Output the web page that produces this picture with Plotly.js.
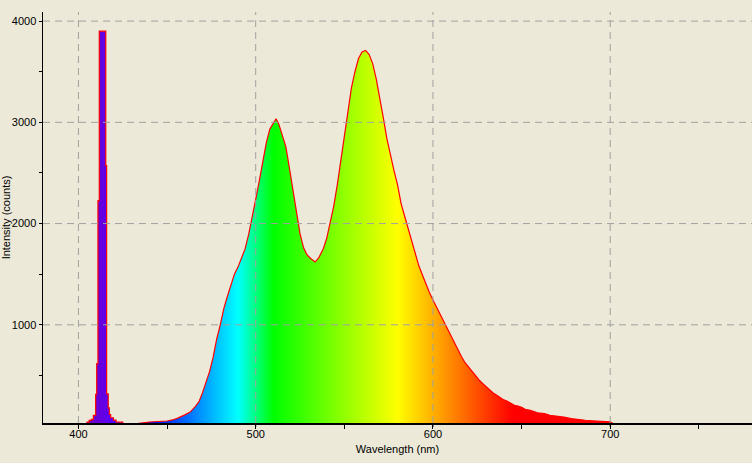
<!DOCTYPE html>
<html>
<head>
<meta charset="utf-8">
<script src="https://cdn.plot.ly/plotly-3.0.1.min.js"></script>
<style>
  html, body { margin: 0; padding: 0; background: #ECE9D8; }
  #chart { width: 752px; height: 463px; }
</style>
</head>
<body>
<div id="chart"></div>
<script>
// ---- Data ----
// Narrow violet emission line (stepped, bin left edges in nm)
const peakWavelength = [404.5, 406.0, 407.3, 408.4, 409.7, 410.3, 411.0, 411.75, 415.4, 415.9, 416.8, 417.4, 418.2, 419.7, 421.2, 423.0, 425.0];
const peakCounts     = [38,    55,    65,    105,   312,   618,   2226,  3901,   2572,  318,   180,   114,   82,    58,    40,    38,    20];

// Broad phosphor emission (nm)
const broadWavelength = [425, 432, 440, 445, 450, 453, 456, 460, 463, 466, 468, 470, 472, 474, 476, 478, 480, 482, 484, 486, 488, 490, 492, 494, 496, 498, 500, 502, 504, 506, 508, 510, 511.5, 513, 515, 517, 519, 521, 523, 525, 527, 529, 531, 533.5, 535.5, 538, 540, 542, 544, 546, 548, 550, 552, 554, 556, 558, 560, 562, 564, 566, 568, 570, 572, 574, 576, 578, 580, 582, 584, 586, 588, 590, 592, 594, 596, 598, 600, 602, 604, 606, 608, 610, 612, 614, 616, 618, 620, 622, 624, 626, 628, 630, 632, 634, 636, 638, 640, 642, 644, 646, 648, 650, 652, 655, 659, 663, 666, 670, 674, 678, 682, 686, 690, 694, 700, 702, 720, 760, 780];
const broadCounts     = [20,  22,  40,  42,  50,  60,  78,  110, 138, 195, 240, 330, 430, 540, 680, 860, 1000, 1160, 1280, 1390, 1500, 1570, 1660, 1750, 1890, 2050, 2240, 2420, 2620, 2800, 2935, 3000, 3035, 2985, 2880, 2760, 2550, 2340, 2110, 1900, 1760, 1690, 1655, 1620, 1660, 1745, 1850, 2000, 2170, 2380, 2630, 2880, 3140, 3340, 3500, 3630, 3695, 3710, 3670, 3580, 3430, 3250, 3045, 2840, 2665, 2525, 2385, 2200, 2075, 1950, 1825, 1700, 1585, 1495, 1400, 1320, 1245, 1175, 1095, 1038, 970, 898, 828, 760, 690, 628, 585, 535, 490, 455, 420, 388, 352, 326, 304, 278, 258, 245, 225, 205, 196, 185, 165, 154, 131, 122, 106, 98, 88, 74, 64, 57, 52, 45, 42, 20, 15, 10, 10];

// Axis ticks
const xMajorTicks = [400, 500, 600, 700];
const xTickLabels = ['400', '500', '600', '700'];
const yMajorTicks = [1000, 2000, 3000, 4000];
const yTickLabels = ['1000', '2000', '3000', '4000'];

// ---- Spectral colour (style) ----
function specColor(w) {
  let r = 0, g = 0, b = 0;
  if (w < 440) { r = -(w - 440) / 60; b = 1; }
  else if (w < 490) { g = (w - 440) / 50; b = 1; }
  else if (w < 510) { g = 1; b = -(w - 510) / 20; }
  else if (w < 580) { r = (w - 510) / 70; g = 1; }
  else if (w < 645) { r = 1; g = -(w - 645) / 65; }
  else { r = 1; }
  let f = 1;
  if (w < 420) f = 0.3 + 0.7 * (w - 380) / 40;
  else if (w > 700) f = 0.3 + 0.7 * (780 - w) / 80;
  const c = v => Math.round(255 * Math.max(0, Math.min(1, v * f)));
  return 'rgb(' + c(r) + ',' + c(g) + ',' + c(b) + ')';
}
const W0 = 380, W1 = 780;
const spectrumScale = [];
for (let w = W0; w <= W1; w += 2) spectrumScale.push([(w - W0) / (W1 - W0), specColor(w)]);

const gradient = { type: 'horizontal', start: W0, stop: W1, colorscale: spectrumScale };

const traces = [
  {
    x: broadWavelength, y: broadCounts, type: 'scatter', mode: 'lines',
    line: { color: '#FF0000', width: 1.2, shape: 'linear' },
    fill: 'tozeroy', fillgradient: gradient,
    hoverinfo: 'skip', showlegend: false
  },
  {
    x: peakWavelength, y: peakCounts, type: 'scatter', mode: 'lines',
    line: { color: '#FF0000', width: 1.2, shape: 'hv' },
    fill: 'tozeroy', fillgradient: gradient,
    hoverinfo: 'skip', showlegend: false
  }
];

// grid lines drawn above the fill, plus major x tick marks below the axis
const gridStyle = { color: '#A0A0A0', width: 1, dash: '7px,5px' };
const shapes = [];
xMajorTicks.forEach(v => shapes.push({ type: 'line', xref: 'x', yref: 'paper', x0: v, x1: v, y0: 0, y1: 1, line: gridStyle, layer: 'above' }));
yMajorTicks.forEach(v => shapes.push({ type: 'line', xref: 'paper', yref: 'y', x0: 0, x1: 1, y0: v, y1: v, line: gridStyle, layer: 'above' }));
xMajorTicks.forEach(v => shapes.push({ type: 'line', xref: 'x', yref: 'paper', ysizemode: 'pixel', yanchor: 0, x0: v, x1: v, y0: 0, y1: -4, line: { color: '#000', width: 1 }, layer: 'above' }));

const font = { family: 'Liberation Sans, Arial, sans-serif', size: 11, color: '#000000' };

const layout = {
  width: 752, height: 463,
  paper_bgcolor: '#ECE9D8', plot_bgcolor: '#ECE9D8',
  margin: { l: 43, r: 0, t: 12, b: 40 },
  font: font,
  showlegend: false,
  shapes: shapes,
  xaxis: {
    range: [380, 780],
    tickmode: 'array', tickvals: xMajorTicks, ticktext: xTickLabels,
    ticks: '',
    minor: { dtick: 50, tick0: 0, ticks: 'outside', ticklen: 4, tickcolor: '#000', showgrid: false },
    showgrid: false, zeroline: false,
    showline: true, linecolor: '#000', linewidth: 1.5,
    layer: 'above traces',
    title: { text: 'Wavelength (nm)', font: font, standoff: 6 },
    fixedrange: true
  },
  yaxis: {
    range: [30, 4090],
    tickmode: 'array', tickvals: yMajorTicks, ticktext: yTickLabels,
    ticks: 'outside', ticklen: 3, tickcolor: '#000', tickwidth: 1,
    minor: { dtick: 500, tick0: 0, ticks: 'outside', ticklen: 3, tickcolor: '#000', showgrid: false },
    showgrid: false, zeroline: false,
    showline: true, linecolor: '#000', linewidth: 1.5,
    layer: 'above traces',
    title: { text: 'Intensity (counts)', font: font, standoff: 7 },
    fixedrange: true
  }
};

Plotly.newPlot('chart', traces, layout, { displayModeBar: false, staticPlot: true });
</script>
</body>
</html>
